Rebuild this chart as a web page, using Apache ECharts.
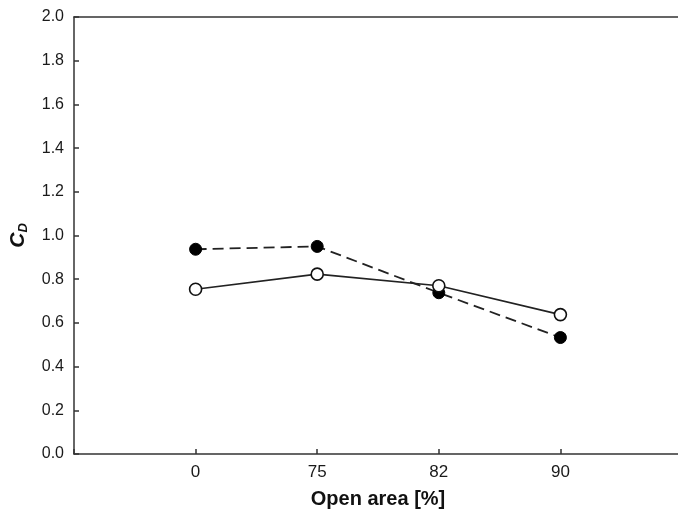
<!DOCTYPE html>
<html>
<head>
<meta charset="utf-8">
<script src="https://cdn.jsdelivr.net/npm/echarts@6/dist/echarts.min.js"></script>
<style>html,body{margin:0;padding:0;background:#fff;}#c{width:678px;height:510px;}</style>
</head>
<body>
<div id="c"></div>
<script>
const categories = ['0', '75', '82', '90'];
const filledValues = [0.937, 0.950, 0.738, 0.533];
const openValues = [0.754, 0.823, 0.770, 0.638];
const yTicks = [0, 0.2, 0.4, 0.6, 0.8, 1.0, 1.2, 1.4, 1.6, 1.8, 2.0];

const toPairs = vals => vals.map((v, i) => [i, v]);
const axisColor = '#333';
const font = 'Liberation Sans, Arial, sans-serif';
const chart = echarts.init(document.getElementById('c'));
chart.setOption({
  animation: false,
  backgroundColor: '#fff',
  grid: { left: 74, top: 17, right: -4, bottom: 56, show: false, containLabel: false, outerBoundsMode: 'none' },
  xAxis: [{
    type: 'value', min: -1, max: 4, interval: 1,
    name: 'Open area [%]', nameLocation: 'middle', nameGap: 35,
    nameTextStyle: { fontFamily: font, fontWeight: 'bold', fontSize: 20, color: '#111' },
    axisLine: { onZero: false, lineStyle: { color: axisColor, width: 1.5 } },
    axisTick: { inside: true, length: 5, lineStyle: { color: axisColor, width: 1.5 } },
    splitLine: { show: false },
    axisLabel: {
      margin: 10, fontFamily: font, fontSize: 17, color: '#1a1a1a',
      formatter: v => (v >= 0 && v < categories.length) ? categories[v] : ''
    }
  }, {
    type: 'value', min: -1, max: 4, position: 'top',
    axisLine: { show: true, onZero: false, lineStyle: { color: axisColor, width: 1.5 } },
    axisTick: { show: false }, axisLabel: { show: false }, splitLine: { show: false }
  }],
  yAxis: {
    type: 'value', min: 0, max: 2, interval: 0.2,
    name: '{c|C}{d|D}', nameLocation: 'middle', nameGap: 44, nameRotate: 90,
    nameTextStyle: {
      rich: {
        c: { fontFamily: font, fontStyle: 'italic', fontWeight: 'bold', fontSize: 21, color: '#111' },
        d: { fontFamily: font, fontStyle: 'italic', fontWeight: 'bold', fontSize: 13, color: '#111', padding: [10, 0, 0, 0] }
      }
    },
    axisLine: { show: true, onZero: false, lineStyle: { color: axisColor, width: 1.5 } },
    axisTick: { show: true, inside: true, length: 5, lineStyle: { color: axisColor, width: 1.5 } },
    splitLine: { show: false },
    axisLabel: {
      margin: 10, fontFamily: font, fontSize: 16, color: '#1a1a1a',
      formatter: v => { const t = yTicks.find(x => Math.abs(x - v) < 1e-6); return (t === undefined ? v : t).toFixed(1); }
    }
  },
  series: [
    {
      type: 'line', data: toPairs(filledValues), symbol: 'circle', symbolSize: 12,
      lineStyle: { color: '#222', width: 1.8, type: [11, 6] },
      itemStyle: { color: '#000', borderColor: '#000', borderWidth: 1 },
      z: 2
    },
    {
      type: 'line', data: toPairs(openValues), symbol: 'circle', symbolSize: 12,
      lineStyle: { color: '#222', width: 1.7, type: 'solid' },
      itemStyle: { color: '#fff', borderColor: '#111', borderWidth: 1.6 },
      z: 3
    }
  ]
});
</script>
</body>
</html>
